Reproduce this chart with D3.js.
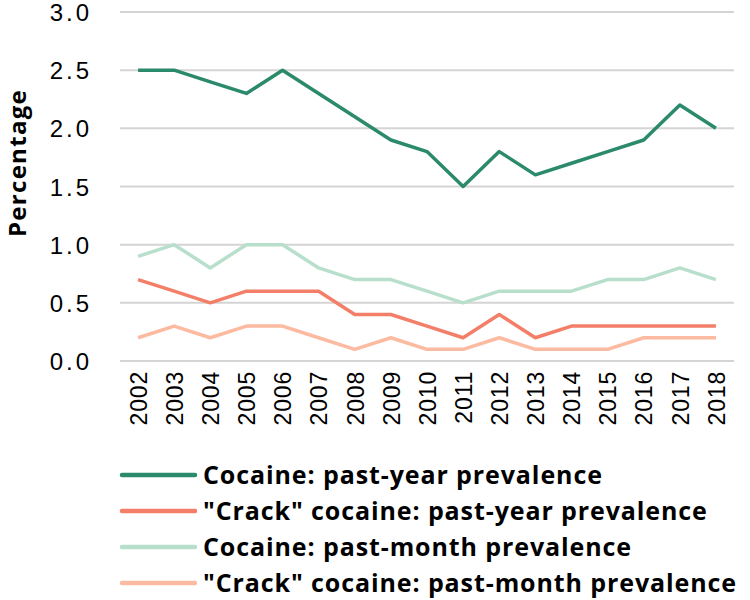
<!DOCTYPE html>
<html>
<head>
  <script src="https://d3js.org/d3.v7.min.js"></script>
  <style>
    body { margin: 0; background: white; }
    svg { font-family: "Open Sans", sans-serif; }
    .grid line { stroke: #d4d4d4; stroke-width: 2; }
    .tick text { fill: #000; }
  </style>
</head>
<body>
  <svg width="750" height="600"></svg>
  <script>
  // data
  const years = ["2002","2003","2004","2005","2006","2007","2008","2009","2010",
                 "2011","2012","2013","2014","2015","2016","2017","2018"];
  const cocaineYear  = [2.5, 2.5, 2.4, 2.3, 2.5, 2.3, 2.1, 1.9, 1.8, 1.5, 1.8, 1.6, 1.7, 1.8, 1.9, 2.2, 2.0];
  const crackYear    = [0.7, 0.6, 0.5, 0.6, 0.6, 0.6, 0.4, 0.4, 0.3, 0.2, 0.4, 0.2, 0.3, 0.3, 0.3, 0.3, 0.3];
  const cocaineMonth = [0.9, 1.0, 0.8, 1.0, 1.0, 0.8, 0.7, 0.7, 0.6, 0.5, 0.6, 0.6, 0.6, 0.7, 0.7, 0.8, 0.7];
  const crackMonth   = [0.2, 0.3, 0.2, 0.3, 0.3, 0.2, 0.1, 0.2, 0.1, 0.1, 0.2, 0.1, 0.1, 0.1, 0.2, 0.2, 0.2];
  const yTicks = [0, 0.5, 1.0, 1.5, 2.0, 2.5, 3.0];

  const series = [
    { name: "Cocaine: past-year prevalence", values: cocaineYear, color: "#2b8a6c" },
    { name: "\"Crack\" cocaine: past-year prevalence", values: crackYear, color: "#f47f69" },
    { name: "Cocaine: past-month prevalence", values: cocaineMonth, color: "#b7dfcb" },
    { name: "\"Crack\" cocaine: past-month prevalence", values: crackMonth, color: "#fcbaa1" }
  ];

  const svg = d3.select("svg");
  const plotLeft = 120, plotRight = 734, plotTop = 12, plotBottom = 361;

  const x = d3.scalePoint().domain(years).range([plotLeft, plotRight]).padding(0.5);
  const y = d3.scaleLinear().domain([0, 3]).range([plotBottom, plotTop]);

  // gridlines
  svg.append("g").attr("class", "grid")
    .selectAll("line").data(yTicks).enter().append("line")
    .attr("x1", plotLeft).attr("x2", plotRight)
    .attr("y1", d => y(d)).attr("y2", d => y(d));

  // y axis labels
  const yAxis = svg.append("g")
    .attr("transform", `translate(${plotLeft},0)`)
    .call(d3.axisLeft(y).tickValues(yTicks).tickFormat(d3.format(".1f")).tickSize(0).tickPadding(28));
  yAxis.select(".domain").remove();
  yAxis.selectAll("text")
    .attr("font-size", 24).attr("letter-spacing", 3).attr("dy", "0.36em");

  // x axis labels, rotated
  const xAxis = svg.append("g")
    .attr("transform", `translate(0,${plotBottom})`)
    .call(d3.axisBottom(x).tickSize(0).tickPadding(0));
  xAxis.select(".domain").remove();
  xAxis.selectAll("text")
    .attr("font-size", 23)
    .attr("letter-spacing", 0.8)
    .attr("transform", "rotate(-90)")
    .attr("text-anchor", "end")
    .attr("x", -10).attr("y", 0).attr("dy", "0.36em");

  // y title
  svg.append("text")
    .attr("transform", "translate(26,163) rotate(-90)")
    .attr("text-anchor", "middle")
    .attr("font-size", 24).attr("font-weight", "bold").attr("letter-spacing", 1.3)
    .text("Percentage");

  // lines
  const line = d3.line().x((d, i) => x(years[i])).y(d => y(d));
  svg.append("g").selectAll("path").data(series).enter().append("path")
    .attr("fill", "none")
    .attr("stroke", d => d.color)
    .attr("stroke-width", 3.5)
    .attr("stroke-linejoin", "round")
    .attr("d", d => line(d.values));

  // legend
  const legend = svg.append("g").selectAll("g").data(series).enter().append("g")
    .attr("transform", (d, i) => `translate(122,${475 + i * 36})`);
  legend.append("line")
    .attr("x1", 0).attr("x2", 73)
    .attr("stroke", d => d.color).attr("stroke-width", 4.5).attr("stroke-linecap", "round");
  legend.append("text")
    .attr("x", 81).attr("dy", "0.36em")
    .attr("font-size", 25).attr("font-weight", "bold").attr("letter-spacing", 0.9)
    .text(d => d.name);
  </script>
</body>
</html>
